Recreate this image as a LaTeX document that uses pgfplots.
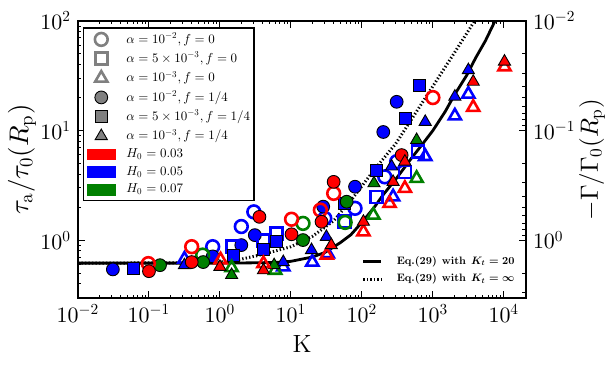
\documentclass[border=0pt]{standalone}
\usepackage{pgfplots}
\pgfplotsset{compat=1.18}
% one optical design at every size, as in matplotlib mathtext
\DeclareFontFamily{OT1}{cmr}{\hyphenchar\font45 }
\DeclareFontShape{OT1}{cmr}{m}{n}{<->cmr10}{}
\DeclareFontShape{OT1}{cmr}{bx}{n}{<->cmbx10}{}
\DeclareFontFamily{OML}{cmm}{\skewchar\font127 }
\DeclareFontShape{OML}{cmm}{m}{it}{<->cmmi10}{}
\DeclareFontShape{OML}{cmm}{b}{it}{<->cmmib10}{}
\DeclareFontFamily{OMS}{cmsy}{\skewchar\font48 }
\DeclareFontShape{OMS}{cmsy}{m}{n}{<->cmsy10}{}
\DeclareFontShape{OMS}{cmsy}{b}{n}{<->cmbsy10}{}

\definecolor{mplred}{RGB}{255,0,0}
\definecolor{mplblue}{RGB}{0,0,255}
\definecolor{mplgreen}{RGB}{0,128,0}
\definecolor{mplgray}{RGB}{128,128,128}

\pgfplotsset{
  opn/.style={only marks, draw=#1, line width=1.3bp, forget plot},
  fil/.style={only marks, draw=black, fill=#1, line width=0.45bp, forget plot},
  mkimg/.style={legend image code/.code={\draw[##1] plot coordinates {(6.75bp,0bp)}; \path (0bp,-3bp) (13.5bp,3bp);}},
  patch/.style={legend image code/.code={\fill[#1] (0bp,-2.5bp) rectangle (13.5bp,2.5bp);}},
  lnimg/.style={legend image code/.code={\draw[##1] (0bp,0bp) -- (9bp,0bp);}},
}

\begin{document}
\begin{tikzpicture}
\useasboundingbox (-39bp,-34bp) rectangle (269bp,149bp);

\begin{axis}[
    at={(0,0)}, anchor=south west,
    scale only axis, width=224bp, height=138.5bp,
    xmode=log, ymode=log,
    xmin=0.01, xmax=20500, ymin=0.296, ymax=100,
    tick align=inside,
    xtick pos=both, ytick pos=left,
    major tick length=3.5bp, minor tick length=1.75bp,
    axis line style={line width=0.9bp},
    every tick/.style={black, line width=0.5bp},
    tick label style={font=\fontsize{11}{12}\selectfont},
    every axis x label/.style={at={(rel axis cs:0.5,0)}, anchor=center, yshift=-23bp,
        font=\fontsize{12.5}{13}\selectfont},
    every axis y label/.style={at={(rel axis cs:0,0.5)}, xshift=-28bp, anchor=center,
        rotate=90, font=\fontsize{13.5}{14}\selectfont},
    xlabel={K},
    ylabel={$\tau_{\rm a}/\tau_0(R_{\rm p})$},
    legend style={at={(0.011,0.978)}, anchor=north west, draw=black,
        line width=0.75bp, fill=white,
        font=\fontsize{6.5}{7}\selectfont, row sep=1.7bp,
        nodes={inner sep=0.6bp},
        inner xsep=1.4bp, inner ysep=1.8bp, column sep=4.6bp},
    legend cell align=left,
]

% blue
\addplot[opn=mplblue, mark=o, mark size=3.2bp] coordinates {
  (0.79,0.87) (2.0,1.33) (3.0,1.81) (30,1.58) (80,1.95) (210,3.78) (309,5.2)};
\addplot[fil=mplblue, mark=*, mark size=3.2bp] coordinates {
  (0.031,0.54) (0.79,0.71) (2.0,0.90) (3.1,1.11) (28.5,2.02) (80,3.07) (200,9.7) (309,18.3)};
\addplot[opn=mplblue, mark=square, mark size=3bp] coordinates {
  (1.5,0.87) (4.1,0.99) (6.3,1.15) (57,1.47) (159,2.48) (403,4.2) (620,6.4)};
\addplot[fil=mplblue, mark=square*, mark size=3bp] coordinates {
  (0.06,0.55) (1.55,0.73) (4.1,0.82) (6.3,0.97) (57,2.16) (162,4.36) (408,12.9) (650,26)};
\addplot[opn=mplblue, mark=triangle, mark size=3.5bp] coordinates {
  (0.316,0.67) (7.8,0.57) (20,0.63) (33,0.75) (275,2.48) (780,5.8) (2040,13.6) (3160,21.5)};
\addplot[fil=mplblue, mark=triangle*, mark size=3.5bp] coordinates {
  (0.316,0.59) (7.8,0.63) (19.5,0.81) (31.6,1.07) (262,4.7) (780,12) (2040,20.4) (3160,35.6)};

% green
\addplot[opn=mplgreen, mark=o, mark size=3.2bp] coordinates {
  (0.57,0.73) (14.8,1.42) (58,1.45)};
\addplot[fil=mplgreen, mark=*, mark size=3.2bp] coordinates {
  (0.143,0.59) (0.58,0.63) (14.8,1.0) (61,2.24)};
\addplot[opn=mplgreen, mark=triangle, mark size=3.5bp] coordinates {
  (1.46,0.56) (6.0,0.53) (145,1.69) (590,3.66)};
\addplot[fil=mplgreen, mark=triangle*, mark size=3.5bp] coordinates {
  (1.46,0.48) (5.8,0.59) (148,3.3) (590,8.2)};

% red
\addplot[opn=mplred, mark=o, mark size=3.2bp] coordinates {
  (0.098,0.61) (0.40,0.87) (10.2,1.55) (26,1.88) (40,2.67) (1000,20)};
\addplot[fil=mplred, mark=*, mark size=3.2bp] coordinates {
  (0.1,0.52) (0.40,0.63) (3.6,1.63) (10.2,1.13) (27,1.47) (40,3.4) (363,5.97)};
\addplot[opn=mplred, mark=triangle, mark size=3.5bp] coordinates {
  (1.02,0.66) (4.1,0.61) (32,0.73) (105,1.19) (245,2.16) (403,2.97) (3700,16.3) (10200,38.2)};
\addplot[fil=mplred, mark=triangle*, mark size=3.5bp] coordinates {
  (1.0,0.57) (4.1,0.53) (37,0.90) (105,1.47) (275,3.4) (403,5.2) (3700,27.9) (10200,42.6)};

% Eq.(29), K_t = infinity
\addplot[black, line width=1.5bp, dash pattern=on 0.65bp off 1.1bp, forget plot] coordinates {
  (0.01,0.616) (0.5,0.62) (1,0.63) (2,0.67) (4,0.74) (10,0.87) (20,1.08) (40,1.5)
  (70,2.3) (150,4.4) (300,7.6) (600,15.2) (1200,30.5) (2000,51) (3600,93) (4000,104)};
% Eq.(29), K_t = 20
\addplot[black, line width=1.4bp, forget plot] coordinates {
  (0.01,0.616) (1,0.616) (3,0.62) (6,0.625) (10,0.64) (20,0.70) (30,0.77) (50,0.95)
  (70,1.12) (100,1.45) (150,2.0) (200,2.6) (300,3.6) (500,5.6) (700,7.4) (1000,10)
  (1500,15) (2000,21) (3000,32) (4000,46) (5500,66) (7500,100) (8000,108)};

\addlegendimage{only marks, mark=o, mark size=3.2bp, draw=mplgray, line width=1.3bp, mkimg}
\addlegendentry{$\alpha=10^{-2}, f=0$}
\addlegendimage{only marks, mark=square, mark size=3bp, draw=mplgray, line width=1.3bp, mkimg}
\addlegendentry{$\alpha=5\times10^{-3}, f=0$}
\addlegendimage{only marks, mark=triangle, mark size=3.5bp, draw=mplgray, line width=1.3bp, mkimg}
\addlegendentry{$\alpha=10^{-3}, f=0$}
\addlegendimage{only marks, mark=*, mark size=3.2bp, draw=black, fill=mplgray, line width=0.45bp, mkimg}
\addlegendentry{$\alpha=10^{-2}, f=1/4$}
\addlegendimage{only marks, mark=square*, mark size=3bp, draw=black, fill=mplgray, line width=0.45bp, mkimg}
\addlegendentry{$\alpha=5\times10^{-3}, f=1/4$}
\addlegendimage{only marks, mark=triangle*, mark size=3.5bp, draw=black, fill=mplgray, line width=0.45bp, mkimg}
\addlegendentry{$\alpha=10^{-3}, f=1/4$}
\addlegendimage{patch=mplred}
\addlegendentry{$H_0=0.03$}
\addlegendimage{patch=mplblue}
\addlegendentry{$H_0=0.05$}
\addlegendimage{patch=mplgreen}
\addlegendentry{$H_0=0.07$}
\end{axis}

\begin{axis}[
    at={(0,0)}, anchor=south west,
    scale only axis, width=224bp, height=138.5bp,
    xmode=log, ymode=log,
    xmin=0.01, xmax=20500, ymin=0.01, ymax=3.38, y dir=reverse,
    hide x axis, axis y line*=right, ytick pos=right,
    tick align=inside,
    major tick length=3.5bp, minor tick length=1.75bp,
    axis line style={line width=0.9bp},
    every tick/.style={black, line width=0.5bp},
    tick label style={font=\fontsize{11}{12}\selectfont},
    every axis y label/.style={at={(rel axis cs:1,0.5)}, xshift=33bp, anchor=center,
        rotate=90, font=\fontsize{12.5}{13}\selectfont},
    ylabel={$-\Gamma/\Gamma_0(R_{\rm p})$},
    legend style={at={(0.978,0.042)}, anchor=south east, draw=none, fill=none,
        font=\fontsize{5.4}{6}\selectfont\boldmath, row sep=2.1bp,
        nodes={inner sep=0.6bp}, inner sep=0bp,
        column sep=6.3bp},
    legend cell align=left,
]
\addplot[draw=none, forget plot] coordinates {(1,1)};
\addlegendimage{black, line width=1.4bp, lnimg}
\addlegendentry{$\mathbf{Eq.(29)\ with}\ K_t=20$}
\addlegendimage{black, line width=1.5bp, dash pattern=on 0.65bp off 1.1bp, lnimg}
\addlegendentry{$\mathbf{Eq.(29)\ with}\ K_t=\infty$}
\end{axis}
\end{tikzpicture}
\end{document}
